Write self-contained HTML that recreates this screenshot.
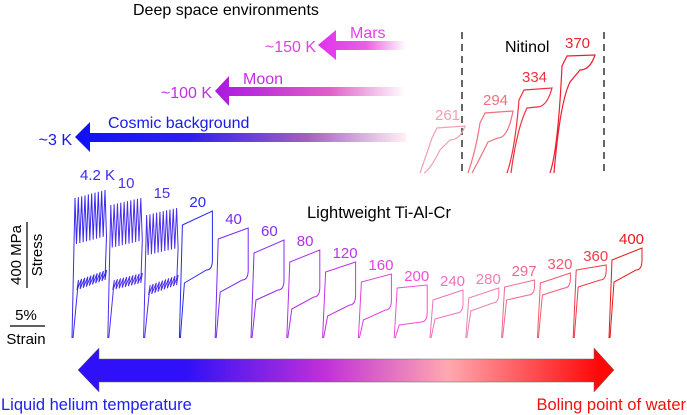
<!DOCTYPE html>
<html><head><meta charset="utf-8"><style>
body{margin:0;background:#fff}
svg{display:block;font-family:"Liberation Sans",Arial,sans-serif}
</style></head><body>
<svg id="chart" width="687" height="415" viewBox="0 0 687 415" xmlns="http://www.w3.org/2000/svg">
<defs>
<linearGradient id="gMars" x1="0" x2="1"><stop offset="0" stop-color="#e030f0"/><stop offset="0.55" stop-color="#ec60e0"/><stop offset="1" stop-color="#fff"/></linearGradient>
<linearGradient id="gMoon" x1="0" x2="1"><stop offset="0" stop-color="#a818e0"/><stop offset="0.6" stop-color="#e060c8"/><stop offset="1" stop-color="#fff"/></linearGradient>
<linearGradient id="gCos" x1="0" x2="1"><stop offset="0" stop-color="#1010f4"/><stop offset="0.35" stop-color="#3020f0"/><stop offset="0.7" stop-color="#a060c0"/><stop offset="1" stop-color="#fff0f4"/></linearGradient>
<linearGradient id="gBig" x1="0" x2="1"><stop offset="0" stop-color="#3010f8"/><stop offset="0.2" stop-color="#3010f8"/><stop offset="0.46" stop-color="#c030d8"/><stop offset="0.69" stop-color="#ffa8b0"/><stop offset="0.97" stop-color="#ff0808"/></linearGradient>
</defs>
<text x="133" y="15" font-size="16">Deep space environments</text>
<path d="M406,41 L336,41 L336,30 L318,45 L336,60 L336,50 L406,50 Z" fill="url(#gMars)"/>
<text x="350" y="38" font-size="16" fill="#e040e8">Mars</text>
<text x="316" y="52" font-size="16" text-anchor="end" fill="#e040e8">~150 K</text>
<path d="M406,87 L229,87 L229,76 L215,91 L229,106 L229,96 L406,96 Z" fill="url(#gMoon)"/>
<text x="243" y="84" font-size="16" fill="#c030e0">Moon</text>
<text x="212" y="98" font-size="16" text-anchor="end" fill="#c030e0">~100 K</text>
<path d="M406,133 L90,133 L90,122 L75,137 L90,152 L90,142 L406,142 Z" fill="url(#gCos)"/>
<text x="108" y="128" font-size="16" fill="#1818f0">Cosmic background</text>
<text x="72" y="145" font-size="16" text-anchor="end" fill="#1818f0">~3 K</text>

<line x1="462" y1="32" x2="462" y2="175" stroke="#333" stroke-width="1.5" stroke-dasharray="7,5"/>
<line x1="604" y1="32" x2="604" y2="175" stroke="#333" stroke-width="1.5" stroke-dasharray="7,5"/>
<text x="505" y="52" font-size="16">Nitinol</text>
<g id="niti"></g>

<text x="307" y="218" font-size="16.5">Lightweight  Ti-Al-Cr</text>
<g id="loops"></g>

<line x1="27" y1="222" x2="27" y2="288" stroke="#000" stroke-width="1.2"/>
<text transform="translate(21,255) rotate(-90)" text-anchor="middle" font-size="15">400 MPa</text>
<text transform="translate(42,255) rotate(-90)" text-anchor="middle" font-size="15">Stress</text>
<text x="26" y="320" text-anchor="middle" font-size="15">5%</text>
<line x1="10" y1="326" x2="45" y2="326" stroke="#000" stroke-width="1.2"/>
<text x="26" y="344" text-anchor="middle" font-size="15">Strain</text>

<path d="M78,370 L99,348 L99,359 L594,359 L594,348 L614,370 L594,392 L594,382 L99,382 L99,392 Z" fill="url(#gBig)" stroke="#666" stroke-width="0.5"/>
<text x="1" y="410" font-size="16.5" fill="#2020ee">Liquid helium temperature</text>
<text x="686" y="410" text-anchor="end" font-size="16.5" fill="#ee1111">Boling point of water</text>
</svg>
<script>
const temps=["4.2 K","10","15","20","40","60","80","120","160","200","240","280","297","320","360","400"];
const upperLeft=[700,665,615,565,495,425,380,330,280,250,190,200,255,275,340,390];
const upperRight=[740,700,650,635,550,490,440,380,320,265,240,250,290,325,365,450];
const lowerLeft=[240,240,215,275,230,190,145,110,90,65,95,135,190,215,255,280];
const lowerRight=[290,275,265,340,290,240,205,165,140,80,125,175,215,250,290,340];
const colors=["#3a2aee","#4a30ee","#4a30ee","#2a2aee","#7a2aee","#8a2aee","#b030e8","#c030e8","#e040e0","#f050d8","#f070c0","#f080b0","#f06a90","#f05a70","#ee3a4a","#e21a1a"];
const niTemps=["261","294","334","370"];
const niUpperL=[128,113,90,56], niUpperR=[126,111,88,55], niLowerL=[150,142,108,82], niLowerR=[140,138,107,70];
const niColors=["#f4a0b0","#f07080","#f03040","#ee1e2e"];
const baseY=338, pxPerMPa=0.2, x0=72, dx=35.8, loopW=33;
const sy=v=>baseY-v*pxPerMPa, sx=i=>x0+i*dx;
const NS="http://www.w3.org/2000/svg";
const g=document.getElementById('loops');
temps.forEach((t,i)=>{
  const x=sx(i), ul=sy(upperLeft[i]), ur=sy(upperRight[i]), ll=sy(lowerLeft[i]), lr=sy(lowerRight[i]);
  let d=`M${x},${baseY} L${x+3},${ul} `;
  if(i<3){
    const n=9;
    for(let k=0;k<=n;k++){const xx=x+3+k*(loopW-3)/n;const yt=ul+(ur-ul)*k/n;d+=`L${xx},${yt} L${xx+1.5},${yt+(ll-ul)*0.5} `;}
    d+=`L${x+loopW},${lr} `;
    for(let k=n;k>=0;k--){const xx=x+5+k*(loopW-5)/n;const yb=ll+(lr-ll)*k/n;d+=`L${xx},${yb} L${xx+1.5},${yb-10} `;}
  } else {
    d+=`L${x+loopW},${ur} L${x+loopW},${lr-10} Q${x+loopW},${lr} ${x+loopW-6},${lr} L${x+5},${ll} `;
  }
  d+=`L${x+1},${baseY}`;
  const p=document.createElementNS(NS,'path');
  p.setAttribute('d',d);p.setAttribute('fill','none');p.setAttribute('stroke',colors[i]);p.setAttribute('stroke-width','1');
  
  
  g.appendChild(p);
  const tx=document.createElementNS(NS,'text');
  tx.setAttribute('x',x+(i==0?8:10));tx.setAttribute('y',Math.min(ul,ur)-(i<3?10:4));tx.setAttribute('font-size','15');tx.setAttribute('fill',colors[i]);
  
  
  tx.textContent=t;g.appendChild(tx);
});
const ng=document.getElementById('niti');
const niBase=[420,468,507,550];
niTemps.forEach((t,i)=>{
  const x=niBase[i];
  const d=`M${x},173 Q${x+8},150 ${x+12},${niUpperL[i]+10} L${x+17},${niUpperL[i]} L${x+45},${niUpperR[i]} Q${x+40},${niLowerR[i]} ${x+30},${niLowerR[i]} L${x+20},${niLowerL[i]} Q${x+10},${niLowerL[i]+20} ${x+4},173`;
  const p=document.createElementNS(NS,'path');
  p.setAttribute('d',d);p.setAttribute('fill','none');p.setAttribute('stroke',niColors[i]);p.setAttribute('stroke-width','1.2');
  
  
  ng.appendChild(p);
  const tx=document.createElementNS(NS,'text');
  tx.setAttribute('x',x+15);tx.setAttribute('y',niUpperL[i]-8);tx.setAttribute('font-size','15');tx.setAttribute('fill',niColors[i]);
  
  
  tx.textContent=t;ng.appendChild(tx);
});
</script>
</body></html>
